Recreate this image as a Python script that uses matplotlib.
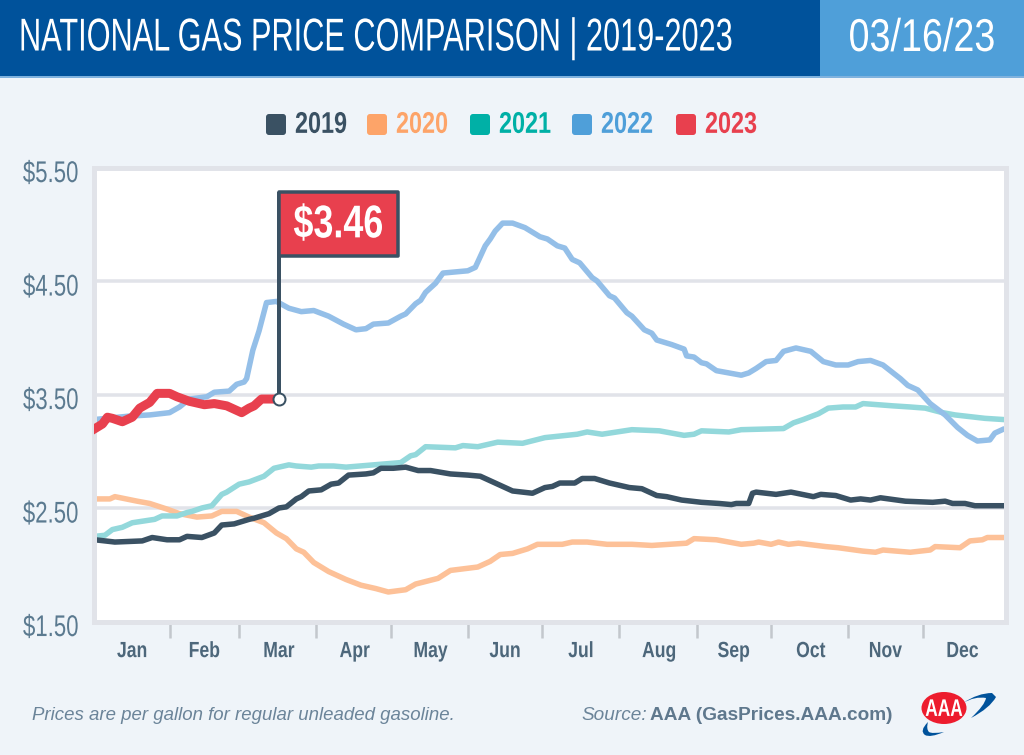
import matplotlib
matplotlib.use('Agg')
import matplotlib.pyplot as plt
from matplotlib.patches import Rectangle, FancyBboxPatch, Ellipse, PathPatch
from matplotlib.path import Path
from matplotlib.patheffects import AbstractPathEffect
from matplotlib.transforms import Affine2D

plain = ['Liberation Sans', 'DejaVu Sans']

years = ['2019', '2020', '2021', '2022', '2023']
months = ['Jan', 'Feb', 'Mar', 'Apr', 'May', 'Jun', 'Jul', 'Aug', 'Sep', 'Oct', 'Nov', 'Dec']
month_ends = [30, 58, 89, 119, 150, 180, 211, 242, 272, 303, 333]
month_mids = [15, 44, 74, 104.5, 135, 165, 195.5, 227, 257, 288, 318, 349]
price_ticks = [1.5, 2.5, 3.5, 4.5, 5.5]
price_labels = ['$1.50', '$2.50', '$3.50', '$4.50', '$5.50']

days_2019 = [0, 8, 19, 23, 29, 34, 37, 43, 48, 51, 56, 62, 64, 70, 74, 77, 81, 83, 86, 91, 95, 98, 102, 109, 112, 115,
             120, 125, 130, 135, 143, 150, 155, 161, 168, 176, 181, 184, 187, 193, 196, 201, 207, 215, 220, 226, 230,
             236, 244, 251, 256, 258, 263, 264.5, 266, 274, 280, 289, 292, 298, 304, 308, 312, 316, 326, 337, 342,
             345, 350, 354, 365]
price_2019 = [2.22, 2.20, 2.21, 2.24, 2.22, 2.22, 2.25, 2.24, 2.28, 2.35, 2.36, 2.40, 2.41, 2.45, 2.50, 2.51, 2.58,
              2.60, 2.65, 2.66, 2.71, 2.72, 2.79, 2.80, 2.81, 2.85, 2.85, 2.86, 2.83, 2.83, 2.80, 2.79, 2.78, 2.72,
              2.65, 2.63, 2.68, 2.69, 2.72, 2.72, 2.76, 2.76, 2.72, 2.68, 2.67, 2.61, 2.60, 2.57, 2.55, 2.54, 2.53,
              2.54, 2.54, 2.63, 2.64, 2.62, 2.64, 2.60, 2.62, 2.61, 2.57, 2.58, 2.57, 2.59, 2.56, 2.55, 2.56, 2.54,
              2.54, 2.52, 2.52]

days_2020 = [0, 6, 8, 17, 22, 29, 34, 41, 47, 51, 57, 62, 68, 73, 77, 81, 84, 88, 94, 101, 107, 113, 118, 125, 129,
             138, 143, 154, 159, 163, 168, 174, 178, 188, 192, 198, 206, 216, 224, 231, 238, 241, 250, 260, 265, 267,
             272, 275, 279, 283, 294, 299, 309, 314, 317, 328, 336, 338, 348, 352, 357, 359, 365]
price_2020 = [2.58, 2.58, 2.60, 2.56, 2.54, 2.49, 2.45, 2.42, 2.43, 2.47, 2.47, 2.42, 2.37, 2.28, 2.23, 2.14, 2.11,
              2.02, 1.94, 1.87, 1.82, 1.79, 1.76, 1.78, 1.83, 1.88, 1.95, 1.98, 2.03, 2.09, 2.10, 2.14, 2.18, 2.18,
              2.20, 2.20, 2.18, 2.18, 2.17, 2.18, 2.19, 2.23, 2.22, 2.18, 2.19, 2.20, 2.18, 2.20, 2.18, 2.19, 2.16,
              2.15, 2.12, 2.11, 2.13, 2.11, 2.13, 2.16, 2.15, 2.21, 2.22, 2.24, 2.24]

days_2021 = [0, 4, 7, 11, 15, 24, 27, 33, 37, 39, 43, 47, 51, 53, 58, 62, 68, 72, 78, 81, 87, 90, 96, 101, 112, 123,
             127, 129, 133, 145, 148, 154, 162, 172, 181, 194, 198, 204, 216, 227, 237, 241, 244, 255, 260, 277, 281,
             285, 291, 295, 301, 306, 309, 321, 328, 334, 341, 346, 354, 358, 365]
price_2021 = [2.25, 2.26, 2.31, 2.33, 2.37, 2.40, 2.43, 2.43, 2.46, 2.47, 2.50, 2.52, 2.62, 2.64, 2.71, 2.73, 2.78,
              2.85, 2.88, 2.87, 2.86, 2.87, 2.87, 2.86, 2.88, 2.90, 2.96, 2.97, 3.04, 3.03, 3.05, 3.04, 3.08, 3.07,
              3.12, 3.15, 3.17, 3.15, 3.19, 3.18, 3.14, 3.15, 3.18, 3.17, 3.19, 3.20, 3.25, 3.28, 3.33, 3.38, 3.39,
              3.39, 3.42, 3.40, 3.39, 3.38, 3.34, 3.32, 3.30, 3.29, 3.28]

days_2022 = [0, 14, 22, 30, 34, 38, 45, 48, 54, 57, 60, 61, 63.5, 66, 69, 73, 78, 83, 88, 94, 100, 105, 109, 112, 118,
             123, 125, 129, 131, 133, 137, 140, 150, 153, 157, 159, 161, 164, 168, 173, 179, 182, 186, 189, 192, 195,
             200, 202, 207, 209, 214, 216, 221, 224, 226, 232, 237, 238, 241, 244, 246, 250, 260, 263, 266, 270, 274,
             277, 282, 288, 293, 298, 303, 307, 312, 317, 324, 327, 331, 336, 342, 347, 351, 355, 360, 362, 365]
price_2022 = [3.28, 3.31, 3.32, 3.34, 3.39, 3.46, 3.48, 3.52, 3.53, 3.59, 3.61, 3.64, 3.89, 4.06, 4.31, 4.32, 4.26,
              4.23, 4.24, 4.19, 4.12, 4.07, 4.08, 4.12, 4.13, 4.19, 4.21, 4.30, 4.33, 4.40, 4.48, 4.57, 4.59, 4.62,
              4.81, 4.87, 4.94, 5.01, 5.01, 4.97, 4.89, 4.87, 4.81, 4.79, 4.69, 4.66, 4.53, 4.50, 4.37, 4.35, 4.22,
              4.19, 4.07, 4.04, 3.98, 3.94, 3.90, 3.84, 3.83, 3.78, 3.77, 3.71, 3.67, 3.69, 3.73, 3.79, 3.80, 3.88,
              3.91, 3.88, 3.79, 3.76, 3.76, 3.79, 3.80, 3.76, 3.64, 3.58, 3.54, 3.42, 3.32, 3.21, 3.14, 3.09, 3.10,
              3.16, 3.19]

days_2023 = [0, 3, 5, 7, 11, 15, 18, 22, 25, 30, 33, 38, 44, 48, 53, 59, 62, 64, 67, 74]
price_2023 = [3.20, 3.24, 3.30, 3.29, 3.26, 3.30, 3.38, 3.43, 3.51, 3.51, 3.48, 3.44, 3.41, 3.42, 3.40, 3.34, 3.38,
              3.40, 3.46, 3.46]

current_price = '$3.46'
flag_low, flag_high = 4.72, 5.28
flag_days = 47.8

DARK = '#3a5163'
legend_colors = [DARK, '#fda469', '#00b0a6', '#4f9fd9', '#e8404e']
line_colors = [DARK, '#fdc198', '#93d8db', '#94bfe8', '#e8404e']
FRAME = '#e1e3e9'
LABEL = '#5b7a90'

W, H = 1024, 755
fig = plt.figure(figsize=(W / 100, H / 100), dpi=100, facecolor='#eff4f9')


def px(v):
    # font sizes and widths are measured in pixels on the reference
    return v * 72 / 100


class Tall(AbstractPathEffect):
    """No condensed font is installed, so stretch a smaller font upward when it is drawn"""

    def __init__(self, sy):
        self.sy = sy

    def draw_path(self, renderer, gc, tpath, affine, rgbFace=None):
        # glyph paths come at size 100, caps are about 72 high: keep their middle in place
        y0 = affine.transform([[0, 36]])[0, 1]
        stretch = Affine2D().translate(0, -y0).scale(1, self.sy).translate(0, y0)
        renderer.draw_path(gc, tpath, affine + stretch, rgbFace)


# page furniture is placed in pixel coordinates
bg = fig.add_axes([0, 0, 1, 1])
bg.set_xlim(0, W)
bg.set_ylim(H, 0)
bg.axis('off')

bg.add_patch(Rectangle((0, 0), 820, 76, fc='#00529b', ec='none'))
bg.add_patch(Rectangle((820, 0), W - 820, 76, fc='#4f9fd9', ec='none'))
bg.add_patch(Rectangle((0, 76), W, 1.5, fc='#7fb2de', ec='none'))
bg.text(19, 37, 'NATIONAL GAS PRICE COMPARISON | 2019-2023', color='white', fontsize=px(30.7), family=plain, va='center',
        path_effects=[Tall(1.5)])
bg.text(922, 38, '03/16/23', color='white', fontsize=px(37.7), family=plain, va='center', ha='center',
        path_effects=[Tall(1.22)])

# legend
swatches = [266, 367, 470, 572, 676]
for year, color, x in zip(years, legend_colors, swatches):
    bg.add_patch(FancyBboxPatch((x + 2, 116), 16, 17, boxstyle='round,pad=2,rounding_size=3', fc=color, ec='none'))
    bg.text(x + 29, 124, year, color=color, fontsize=px(23.4), family=plain, weight='bold', va='center',
            path_effects=[Tall(1.28)])

# footer
bg.text(32, 715, 'Prices are per gallon for regular unleaded gasoline.', color='#6b8499', fontsize=px(18.6),
        family=plain, style='italic', va='center')
bg.text(581, 715, 'Source:', color='#6b8499', fontsize=px(19), family=plain, style='italic', va='center')
bg.text(650, 715, 'AAA (GasPrices.AAA.com)', color='#5f788d', fontsize=px(19), family=plain, weight='bold', va='center')

# AAA logo
swoosh_top = [(963, 703), (978, 693), (992, 693), (996, 697), (990, 708), (971, 718), (985, 705), (986, 698),
              (975, 696), (963, 703), (963, 703)]
swoosh_low = [(928, 722), (919, 731), (925, 735), (930, 738), (944, 732), (932, 734), (929, 732), (926, 729),
              (928, 722), (928, 722)]
codes_top = [Path.MOVETO, Path.CURVE3, Path.CURVE3, Path.LINETO, Path.CURVE3, Path.CURVE3, Path.CURVE3, Path.CURVE3,
             Path.CURVE3, Path.CURVE3, Path.CLOSEPOLY]
codes_low = [Path.MOVETO, Path.CURVE3, Path.CURVE3, Path.CURVE3, Path.CURVE3, Path.CURVE3, Path.CURVE3, Path.CURVE3,
             Path.CURVE3, Path.CLOSEPOLY]
bg.add_patch(PathPatch(Path(swoosh_top, codes_top), fc='#00529b', ec='none'))
bg.add_patch(PathPatch(Path(swoosh_low, codes_low), fc='#00529b', ec='none'))
bg.add_patch(Ellipse((944, 708), 45, 32, fc='#ed1c2e', ec='none'))
bg.text(944, 709, 'AAA', color='white', fontsize=px(17.3), family=plain, weight='bold', ha='center', va='center',
        path_effects=[Tall(1.39)])

# chart
ax = fig.add_axes([93.5 / W, 1 - 621.5 / H, (1005.5 - 93.5) / W, (621.5 - 167.5) / H], facecolor='white')
ax.set_xlim(-0.6, 366.3)
ax.set_ylim(1.5, 5.5)

ax.set_yticks(price_ticks)
ax.set_yticklabels([])
ax.tick_params(axis='y', length=0)
ax.grid(axis='y', color=FRAME, lw=px(3.5), zorder=1)
for value, label in zip(price_ticks, price_labels):
    ax.annotate(label, (0, value), xycoords=('axes fraction', 'data'), xytext=(-11, -4.5), textcoords='offset points',
                ha='right', va='center', color=LABEL, fontsize=px(22.2), family=plain, annotation_clip=False,
                path_effects=[Tall(1.35)])

ax.set_xticks(month_ends)
ax.set_xticklabels([])
ax.tick_params(axis='x', which='major', length=px(16), width=px(2.5), color='#c3c7cd')
ax.set_xticks(month_mids, minor=True)
ax.set_xticklabels(months, minor=True, color='#4d677b', fontsize=px(17.6), family=plain, weight='bold')
ax.tick_params(axis='x', which='minor', length=0, pad=px(21))
for tick_label in ax.get_xticklabels(minor=True):
    tick_label.set_path_effects([Tall(1.25)])

for side in ax.spines:
    ax.spines[side].set_color(FRAME)
    ax.spines[side].set_linewidth(px(5))
    ax.spines[side].set_zorder(6)

lw = px(5.5)
ax.plot(days_2020, price_2020, color=line_colors[1], lw=lw, zorder=2, solid_joinstyle='round')
ax.plot(days_2021, price_2021, color=line_colors[2], lw=lw, zorder=3, solid_joinstyle='round')
ax.plot(days_2019, price_2019, color=line_colors[0], lw=lw, zorder=4, solid_joinstyle='round')
ax.plot(days_2022, price_2022, color=line_colors[3], lw=lw, zorder=5, solid_joinstyle='round')
ax.plot(days_2023, price_2023, color=line_colors[4], lw=px(9), zorder=7, solid_joinstyle='round')

# flag on the latest price
last_day, last_price = days_2023[-1], price_2023[-1]
ax.plot([last_day, last_day], [last_price, flag_high], color=DARK, lw=px(4), zorder=8, solid_capstyle='butt')
ax.add_patch(Rectangle((last_day, flag_low), flag_days, flag_high - flag_low, fc=legend_colors[4], ec=DARK, lw=px(3.5),
                       zorder=8, joinstyle='round'))
ax.text(last_day + flag_days / 2, (flag_low + flag_high) / 2, current_price, color='white', fontsize=px(35.9),
        family=plain, weight='bold', ha='center', va='center', zorder=9, path_effects=[Tall(1.28)])
ax.plot([last_day], [last_price], 'o', ms=px(12), mfc='white', mec=DARK, mew=px(2), zorder=9)

fig.savefig('out.png', dpi=100, facecolor=fig.get_facecolor())
